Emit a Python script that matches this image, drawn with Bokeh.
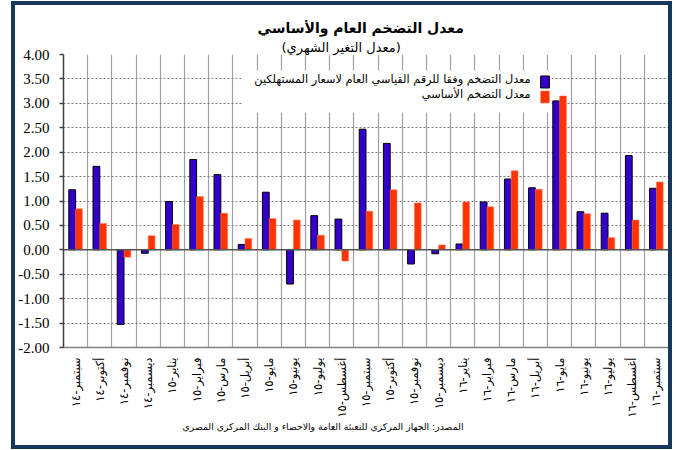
from math import pi
from bokeh.plotting import figure
from bokeh.models import (FactorRange, Range1d, FixedTicker, PrintfTickFormatter, Span, Label,
                          BoxAnnotation, Legend, LegendItem, ColumnDataSource, Title)
from bokeh.core.properties import value
from bokeh.transform import dodge
from bokeh.embed import file_html
from bokeh.resources import INLINE

# ---------------- data ----------------
months = ["سبتمبر-١٤", "أكتوبر-١٤", "نوفمبر-١٤", "ديسمبر-١٤",
          "يناير-١٥", "فبراير-١٥", "مارس-١٥", "أبريل-١٥", "مايو-١٥", "يونيو-١٥",
          "يوليو-١٥", "أغسطس-١٥", "سبتمبر-١٥", "أكتوبر-١٥", "نوفمبر-١٥", "ديسمبر-١٥",
          "يناير-١٦", "فبراير-١٦", "مارس-١٦", "أبريل-١٦", "مايو-١٦", "يونيو-١٦",
          "يوليو-١٦", "أغسطس-١٦", "سبتمبر-١٦"]
headline = [1.23, 1.71, -1.53, -0.07, 0.99, 1.85, 1.54, 0.11, 1.18, -0.70,
            0.70, 0.63, 2.47, 2.18, -0.29, -0.08, 0.12, 0.98, 1.45, 1.27,
            3.05, 0.78, 0.75, 1.93, 1.26]
core = [0.84, 0.54, -0.15, 0.29, 0.52, 1.09, 0.75, 0.23, 0.64, 0.61,
        0.30, -0.23, 0.79, 1.23, 0.96, 0.10, 0.98, 0.88, 1.62, 1.24,
        3.15, 0.74, 0.25, 0.61, 1.39]
y_ticks = [-2.0, -1.5, -1.0, -0.5, 0.0, 0.5, 1.0, 1.5, 2.0, 2.5, 3.0, 3.5, 4.0]
series_names = ["معدل التضخم وفقا للرقم القياسي العام لاسعار المستهلكين",
                "معدل التضخم الأساسي"]
title_text = "معدل التضخم العام والأساسي"
subtitle_text = "(معدل التغير الشهري)"
source_text = "المصدر:  الجهاز المركزي للتعبئة العامة والاحصاء و البنك المركزي المصري"

# ---------------- figure ----------------
W, H = 653, 440
AR = "DejaVu Sans"
p = figure(width=W, height=H, x_range=FactorRange(factors=months),
           y_range=Range1d(y_ticks[0], y_ticks[-1]),
           output_backend="svg", toolbar_location=None,
           min_border_left=48, min_border_right=0, min_border_top=49, min_border_bottom=98,
           styles={"outline": "4px solid #17375e", "margin": "5px 0 0 15px"})
p.background_fill_color = "white"
p.border_fill_color = "white"
p.outline_line_color = None

# grid
p.xgrid.ticker = FixedTicker(ticks=list(range(1, len(months) + 1)))
p.xgrid.grid_line_color = "#a0a0a0"
p.xgrid.grid_line_width = 1.2
p.ygrid.ticker = FixedTicker(ticks=y_ticks)
p.ygrid.grid_line_color = "#7a7a7a"
p.ygrid.grid_line_dash = "2 2"
p.ygrid.grid_line_width = 1

# y axis
p.yaxis.ticker = FixedTicker(ticks=y_ticks)
p.yaxis.formatter = PrintfTickFormatter(format="%.2f")
p.yaxis.axis_line_color = "#404040"
p.yaxis.axis_line_width = 1.5
p.yaxis.major_tick_line_color = "#404040"
p.yaxis.major_tick_line_width = 1.5
p.yaxis.major_tick_out = 4
p.yaxis.major_tick_in = 0
p.yaxis.minor_tick_line_color = None
p.yaxis.major_label_text_font = "Liberation Serif"
p.yaxis.major_label_text_font_size = "15px"
p.yaxis.major_label_text_color = "black"
p.yaxis.major_label_standoff = 10

# x axis
p.xaxis.axis_line_color = "#808080"
p.xaxis.axis_line_width = 1.5
p.xaxis.major_tick_line_color = None
p.xaxis.minor_tick_line_color = None
p.xaxis.major_label_orientation = pi / 2
p.xaxis.major_label_text_font = AR
p.xaxis.major_label_text_font_size = "11.5px"
p.xaxis.major_label_text_color = "black"
p.xaxis.major_label_standoff = 4

# bars
src = ColumnDataSource(dict(month=months, headline=headline, core=core))
b1 = p.vbar(x=dodge("month", -0.14, range=p.x_range), top="headline", bottom=0, width=0.28,
            source=src, fill_color="#3300cc", line_color="black", line_width=1)
b2 = p.vbar(x=dodge("month", 0.14, range=p.x_range), top="core", bottom=0, width=0.28,
            source=src, fill_color="#ff3300", line_color="#ff7a5c", line_width=0.6)

# zero line
p.add_layout(Span(location=0, dimension="width", line_color="#555555", line_width=1.5))

# white legend area
p.add_layout(BoxAnnotation(left=7.40, right=20.17, bottom=2.81, top=3.67,
                           fill_color="white", fill_alpha=1, line_color=None))

# legend swatches
legend = Legend(items=[LegendItem(label=value(" "), renderers=[b1]),
                       LegendItem(label=value(" "), renderers=[b2])],
                location=(476, 243), padding=0, margin=0, spacing=0,
                glyph_width=11, glyph_height=15, label_standoff=0, label_width=0,
                label_height=15, label_text_font_size="8px",
                background_fill_alpha=0, border_line_color=None)
p.add_layout(legend)

# legend texts
for name, yy in zip(series_names, [3.48, 3.18]):
    p.add_layout(Label(x=19.30, y=yy, text=name, text_align="right", text_baseline="middle",
                       text_font=AR, text_font_size="11.3px", text_color="black"))

# titles (nearest to the frame first)
p.add_layout(Title(text=subtitle_text, align="left", offset=218, standoff=0,
                   text_font=AR, text_font_size="13px", text_font_style="normal",
                   text_color="black"), "above")
p.add_layout(Title(text=title_text, align="left", offset=194, standoff=4,
                   text_font=AR, text_font_size="14px", text_font_style="bold",
                   text_color="black"), "above")
# source
p.add_layout(Title(text=source_text, align="left", offset=119, standoff=0,
                   vertical_align="top",
                   text_font=AR, text_font_size="9.3px", text_font_style="normal",
                   text_color="black"), "below")

open("out.html", "w").write(file_html(p, INLINE))
